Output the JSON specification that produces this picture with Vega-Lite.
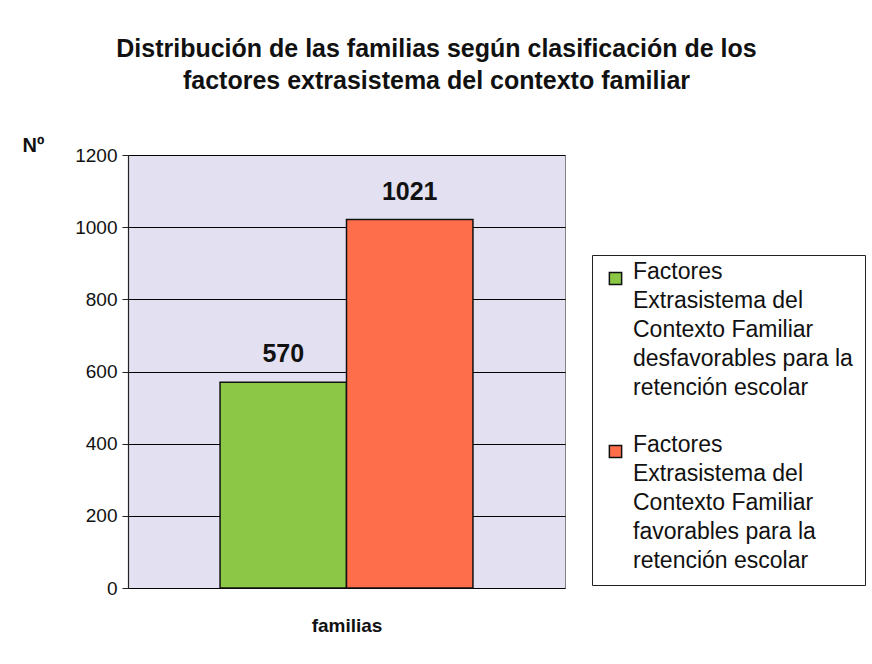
{
  "$schema": "https://vega.github.io/schema/vega-lite/v6.json",
  "width": 437,
  "height": 433,
  "autosize": "none",
  "padding": {"left": 128, "top": 155, "right": 307, "bottom": 76},
  "background": "white",
  "title": {
    "text": ["Distribución de las familias según clasificación de los", "factores extrasistema del contexto familiar"],
    "font": "Liberation Sans",
    "fontSize": 25,
    "fontWeight": "bold",
    "color": "#111",
    "anchor": "middle",
    "dx": 90,
    "offset": 41,
    "lineHeight": 32
  },
  "data": {
    "values": [
      {"grupo": "familias", "factor": "Factores Extrasistema del Contexto Familiar desfavorables para la retención escolar", "n": 570},
      {"grupo": "familias", "factor": "Factores Extrasistema del Contexto Familiar favorables para la retención escolar", "n": 1021}
    ]
  },
  "config": {
    "view": {"fill": "#E3E1F1", "stroke": "#808080", "strokeWidth": 1},
    "font": "Liberation Sans",
    "style": {"guide-label": {"lineHeight": 29}}
  },
  "encoding": {
    "x": {
      "field": "grupo",
      "type": "nominal",
      "scale": {"paddingInner": 0, "paddingOuter": 0.364},
      "axis": {
        "labels": false,
        "ticks": false,
        "domain": false,
        "title": "familias",
        "titleFont": "Liberation Sans",
        "titleFontSize": 19,
        "titleFontWeight": "bold",
        "titleColor": "#111",
        "titlePadding": 28
      }
    },
    "xOffset": {
      "field": "factor",
      "type": "nominal",
      "scale": {"paddingInner": 0, "paddingOuter": 0}
    },
    "y": {
      "field": "n",
      "type": "quantitative",
      "scale": {"domain": [0, 1200], "nice": false},
      "axis": {
        "values": [0, 200, 400, 600, 800, 1000, 1200],
        "format": "d",
        "grid": true,
        "gridColor": "#000000",
        "gridWidth": 1.2,
        "gridOpacity": 1,
        "domainColor": "#222",
        "domainWidth": 1.2,
        "tickColor": "#222",
        "tickSize": 6,
        "labelFont": "Liberation Sans",
        "labelFontSize": 19,
        "labelColor": "#111",
        "labelPadding": 5,
        "title": "Nº",
        "titleAngle": 0,
        "titleAlign": "left",
        "titleBaseline": "middle",
        "titleX": -106,
        "titleY": -10,
        "titleFont": "Liberation Sans",
        "titleFontSize": 20,
        "titleFontWeight": "bold",
        "titleColor": "#111"
      }
    }
  },
  "layer": [
    {
      "mark": {"type": "bar", "stroke": "#111", "strokeWidth": 1.5},
      "encoding": {
        "color": {
          "field": "factor",
          "type": "nominal",
          "scale": {
            "domain": [
              "Factores Extrasistema del Contexto Familiar desfavorables para la retención escolar",
              "Factores Extrasistema del Contexto Familiar favorables para la retención escolar"
            ],
            "range": ["#8CC846", "#FF6E4B"]
          },
          "legend": {
            "title": null,
            "orient": "none",
            "legendX": 464,
            "legendY": 100,
            "direction": "vertical",
            "strokeColor": "#222",
            "padding": 12,
            "symbolType": "square",
            "symbolSize": 150,
            "symbolStrokeColor": "#111",
            "symbolStrokeWidth": 1.5,
            "symbolOpacity": 1,
            "labelFont": "Liberation Sans",
            "labelFontSize": 23,
            "labelColor": "#111",
            "labelBaseline": "alphabetic",
            "labelOffset": 6,
            "labelLimit": 400,
            "rowPadding": 33,
            "labelExpr": "indexof(datum.label, 'desfavorables') >= 0 ? ['Factores', 'Extrasistema del', 'Contexto Familiar', 'desfavorables para la', 'retención escolar'] : ['Factores', 'Extrasistema del', 'Contexto Familiar', 'favorables para la', 'retención escolar']"
          }
        }
      }
    },
    {
      "mark": {
        "type": "text",
        "baseline": "middle",
        "dy": -28,
        "font": "Liberation Sans",
        "fontSize": 25,
        "fontWeight": "bold",
        "color": "#111"
      },
      "encoding": {
        "text": {"field": "n", "type": "quantitative"}
      }
    }
  ]
}
